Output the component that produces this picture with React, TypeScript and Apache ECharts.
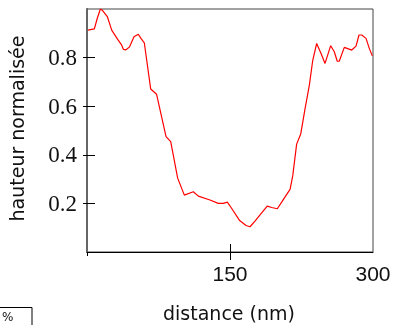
import React, { useEffect, useRef } from "react";
import * as echarts from "echarts";

const distances = [1, 7.7, 10.8, 14, 16, 21.3, 25.9, 32.2, 36.4, 38.1, 40.9, 44.4, 49.3, 53.8, 56.6, 60.1, 66.8, 73.0, 82.9, 87.8, 95.1, 102.1, 111.5, 116.8, 129, 137.7, 143, 147.2, 151.8, 159.8, 166.8, 171, 176.2, 183.2, 189.1, 193.7, 199.6, 204.2, 209.5, 213, 215.8, 219.9, 224.2, 228.7, 233.2, 236.8, 240.9, 245.5, 249.7, 255.6, 259.4, 262.5, 264.6, 269.9, 277.7, 282.2, 285.3, 288.2, 292.7, 296.1, 299.3];
const heights = [0.913, 0.918, 0.962, 1.0, 0.995, 0.969, 0.913, 0.875, 0.851, 0.834, 0.832, 0.843, 0.886, 0.896, 0.879, 0.861, 0.671, 0.649, 0.475, 0.454, 0.304, 0.234, 0.248, 0.230, 0.214, 0.200, 0.200, 0.205, 0.179, 0.131, 0.109, 0.104, 0.127, 0.161, 0.189, 0.183, 0.178, 0.205, 0.237, 0.258, 0.313, 0.444, 0.486, 0.589, 0.686, 0.789, 0.858, 0.817, 0.776, 0.849, 0.824, 0.785, 0.785, 0.842, 0.831, 0.847, 0.893, 0.893, 0.879, 0.838, 0.807];
const xTickLabels = [150, 300];
const yTickLabels = [0.2, 0.4, 0.6, 0.8];
const xName = "distance (nm)";
const yName = "hauteur normalisée";

export default function App() {
  const ref = useRef<HTMLDivElement>(null);
  useEffect(() => {
    if (!ref.current) return;
    const chart = echarts.init(ref.current, null, { renderer: "svg" });
    chart.setOption({
      animation: false,
      grid: { left: 87, right: 24, top: 9, bottom: 73, show: true, borderColor: "#444", borderWidth: 1 },
      xAxis: [
        {
          type: "value", min: 0, max: 300, interval: 150, position: "bottom",
          axisLine: { show: true, lineStyle: { color: "#000", width: 1 } },
          axisTick: { show: true, inside: false, length: 8, lineStyle: { color: "#000" }, customValues: [150] },
          axisLabel: { show: true, margin: 11, fontFamily: "Liberation Sans", fontSize: 21, color: "#111", customValues: xTickLabels },
          splitLine: { show: false },
        },
        {
          type: "value", min: 0, max: 300, interval: 150, position: "bottom",
          axisLine: { show: false },
          axisTick: { show: true, inside: true, length: 8, lineStyle: { color: "#000" }, customValues: [150] },
          axisLabel: { show: false },
          splitLine: { show: false },
        },
        {
          type: "value", min: 0, max: 300, interval: 150, position: "bottom",
          axisLine: { show: false },
          axisTick: { show: true, inside: false, length: 4, lineStyle: { color: "#000" }, customValues: [0] },
          axisLabel: { show: false },
          splitLine: { show: false },
        },
      ],
      yAxis: [
        {
          type: "value", min: 0, max: 1, interval: 0.2, position: "left",
          axisLine: { show: true, lineStyle: { color: "#000", width: 1 } },
          axisTick: { show: true, inside: false, length: 4, lineStyle: { color: "#000" }, customValues: yTickLabels },
          axisLabel: { show: true, margin: 10, fontFamily: "Liberation Serif", fontSize: 23, color: "#111", customValues: yTickLabels, formatter: (v: number) => v.toFixed(1) },
          splitLine: { show: false },
        },
        {
          type: "value", min: 0, max: 1, interval: 0.2, position: "left",
          axisLine: { show: false },
          axisTick: { show: true, inside: true, length: 8, lineStyle: { color: "#000" }, customValues: yTickLabels },
          axisLabel: { show: false },
          splitLine: { show: false },
        },
        {
          type: "value", min: 0, max: 1, interval: 0.2, position: "right",
          axisLine: { show: true, lineStyle: { color: "#666", width: 2 } },
          axisTick: { show: false },
          axisLabel: { show: false },
          splitLine: { show: false },
        },
      ],
      series: [
        {
          type: "line",
          xAxisIndex: 0,
          yAxisIndex: 0,
          data: distances.map((d, i) => [d, heights[i]]),
          showSymbol: false,
          symbol: "none",
          lineStyle: { color: "#ff0000", width: 1.2 },
        },
      ],
      graphic: [
        {
          type: "text", x: 229, y: 313,
          style: { text: xName, fontFamily: "DejaVu Sans", fontSize: 19, fill: "#111", textAlign: "center", textVerticalAlign: "middle" },
        },
        {
          type: "text", x: 17, y: 128.5, rotation: Math.PI / 2,
          style: { text: yName, fontFamily: "DejaVu Sans", fontSize: 19, fill: "#111", textAlign: "center", textVerticalAlign: "middle" },
        },
        {
          type: "rect", shape: { x: -2, y: 307.5, width: 34, height: 30 },
          style: { fill: "#fff", stroke: "#000", lineWidth: 1 },
        },
        {
          type: "text", x: 2, y: 311,
          style: { text: "%", fontFamily: "DejaVu Sans", fontSize: 12, fill: "#111", textAlign: "left", textVerticalAlign: "top" },
        },
      ],
    });
    return () => chart.dispose();
  }, []);
  return <div ref={ref} style={{ position: "fixed", left: 0, top: 0, width: 397, height: 325 }} />;
}
